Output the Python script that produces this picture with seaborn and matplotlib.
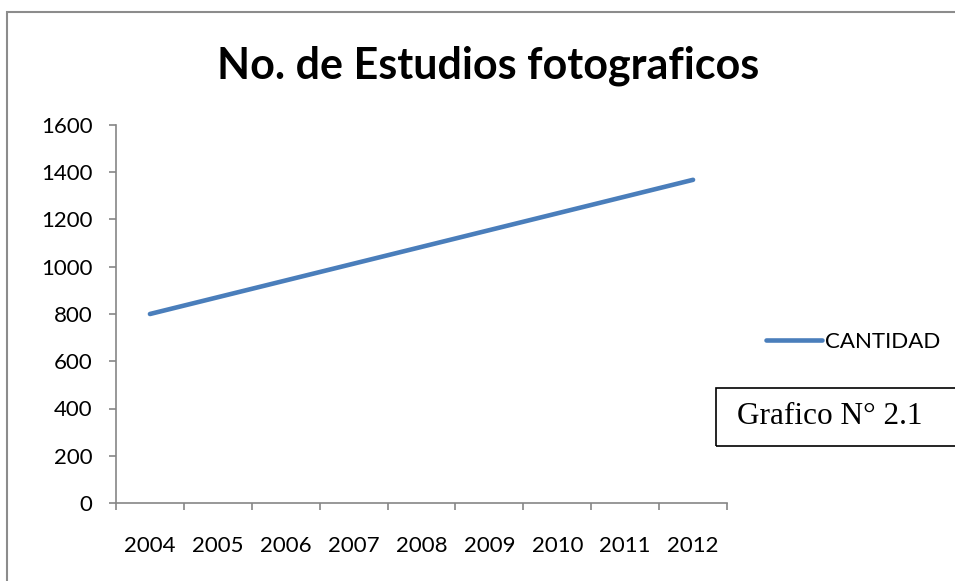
from matplotlib import pyplot as plt
from matplotlib.patches import Rectangle
from matplotlib.ticker import FixedLocator
import numpy as np
import pandas
import seaborn as sns

# data
years = ["2004", "2005", "2006", "2007", "2008", "2009", "2010", "2011", "2012"]
cantidad = [800, 871, 942, 1013, 1084, 1155, 1226, 1297, 1368]
y_ticks = [0, 200, 400, 600, 800, 1000, 1200, 1400, 1600]

dataframe = pandas.DataFrame({"Year": years, "CANTIDAD": cantidad})

sns.set_style("white")
plt.rcParams["font.family"] = ["Lato", "DejaVu Sans"]
plt.rcParams["text.color"] = "black"
plt.rcParams["xtick.labelcolor"] = "black"
plt.rcParams["ytick.labelcolor"] = "black"

fig = plt.figure(figsize=(9.55, 5.81), dpi=100)
ax1 = fig.add_axes([116 / 955, (581 - 503) / 581, (727 - 116) / 955, (503 - 125) / 581])

x_pos = np.arange(len(years))
sns.lineplot(x=x_pos, y=dataframe["CANTIDAD"], ax=ax1, color="#4a7ebb",
             linewidth=3.3, label="CANTIDAD", solid_capstyle="round")

axis_grey = "#868686"
ax1.set_xlim(-0.5, len(years) - 0.5)
ax1.set_ylim(0, 1600)
ax1.set_yticks(y_ticks)
ax1.set_yticklabels([str(v) for v in y_ticks], fontsize=16)
ax1.set_xticks(x_pos)
ax1.set_xticklabels(years, fontsize=16)
ax1.xaxis.set_minor_locator(FixedLocator(np.arange(-0.5, len(years), 1.0)))
ax1.tick_params(axis="x", which="major", bottom=True, length=0, pad=24)
ax1.tick_params(axis="x", which="minor", bottom=True, length=5, color=axis_grey, width=1.2)
ax1.tick_params(axis="y", left=True, length=5, color=axis_grey, width=1.2, pad=12)
ax1.set_xlabel("")
ax1.set_ylabel("")
for side in ["top", "right"]:
    ax1.spines[side].set_visible(False)
for side in ["left", "bottom"]:
    ax1.spines[side].set_color(axis_grey)
    ax1.spines[side].set_linewidth(1.2)

ax1.legend(loc="center left", bbox_to_anchor=(766 / 955, (581 - 342) / 581),
           bbox_transform=fig.transFigure, frameon=False, fontsize=16,
           handlelength=2.5, handletextpad=0.15, borderpad=0, borderaxespad=0,
           labelcolor="black")

fig.text(488 / 955, (581 - 66) / 581, "No. de Estudios fotograficos",
         ha="center", va="center", fontsize=31, fontweight="bold", color="black")

# outer chart border (runs off the right and bottom edges)
fig.patches.append(Rectangle((7 / 955, -0.1), 1.2, 1.1 - 12 / 581, transform=fig.transFigure,
                             fill=False, edgecolor="#8c8c8c", linewidth=1.5))

# caption box
fig.patches.append(Rectangle((716 / 955, (581 - 446) / 581), 0.4, 58 / 581, transform=fig.transFigure,
                             fill=False, edgecolor="black", linewidth=1.2))
fig.text(737 / 955, (581 - 417) / 581, "Grafico N° 2.1", ha="left", va="center",
         fontsize=22.5, color="black", family=["Liberation Serif", "DejaVu Serif"])

plt.savefig("out.png", dpi=100)
